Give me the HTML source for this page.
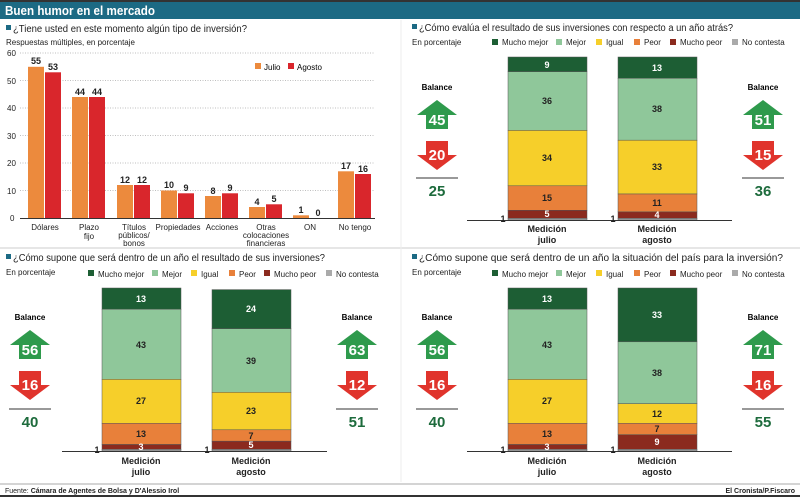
<!DOCTYPE html>
<html><head><meta charset="utf-8"><style>
html,body{margin:0;padding:0;background:#fff}
svg{display:block;font-family:"Liberation Sans",sans-serif}
.b{font-weight:bold}
</style></head><body>
<svg width="800" height="497" viewBox="0 0 800 497" xmlns="http://www.w3.org/2000/svg">
<defs>
<g id="up"><polygon points="0,-15 20,0 11,0 11,14 -11,14 -11,0 -20,0" fill="#2e9a4c"/></g>
<g id="dn"><polygon points="0,15 20,0 11,0 11,-14 -11,-14 -11,0 -20,0" fill="#e0342c"/></g>
</defs>
<rect x="0" y="0" width="800" height="2" fill="#333"/>
<rect x="0" y="2" width="800" height="17" fill="#1c6a84"/>
<text x="5" y="15" fill="#fff" font-size="13" class="b" textLength="150" lengthAdjust="spacingAndGlyphs">Buen humor en el mercado</text>
<line x1="0" y1="248" x2="800" y2="248" stroke="#ccc" stroke-width="1"/>
<line x1="401" y1="20" x2="401" y2="482" stroke="#eee" stroke-width="1"/>

<!-- Panel 1 -->
<rect x="6" y="25" width="5" height="5" fill="#1c6a84"/>
<text x="13" y="32" font-size="10" fill="#222" textLength="234" lengthAdjust="spacingAndGlyphs">¿Tiene usted en este momento algún tipo de inversión?</text>
<text x="6" y="45" font-size="8" fill="#222">Respuestas múltiples, en porcentaje</text>
<g stroke="#aaa" stroke-dasharray="1,1.5" stroke-width="0.8">
<line x1="20" y1="53" x2="375" y2="53"/><line x1="20" y1="80.5" x2="375" y2="80.5"/><line x1="20" y1="108" x2="375" y2="108"/><line x1="20" y1="135.5" x2="375" y2="135.5"/><line x1="20" y1="163" x2="375" y2="163"/><line x1="20" y1="190.5" x2="375" y2="190.5"/>
</g>
<line x1="20" y1="218.5" x2="375" y2="218.5" stroke="#333" stroke-width="1"/>
<g font-size="8" fill="#222">
<text x="7" y="56">60</text><text x="7" y="84">50</text><text x="7" y="111">40</text><text x="7" y="139">30</text><text x="7" y="166">20</text><text x="7" y="194">10</text><text x="10" y="221">0</text>
</g>
<rect x="255" y="63" width="6" height="6" fill="#ec8a3d"/><text x="264" y="70" font-size="8">Julio</text>
<rect x="288" y="63" width="6" height="6" fill="#d9262c"/><text x="297" y="70" font-size="8">Agosto</text>
<g fill="#ec8a3d">
<rect x="28" y="66.8" width="16" height="151.2"/><rect x="72" y="97" width="16" height="121"/><rect x="117" y="185" width="16" height="33"/><rect x="161" y="190.5" width="16" height="27.5"/><rect x="205" y="196" width="16" height="22"/><rect x="249" y="207" width="16" height="11"/><rect x="293" y="215.3" width="16" height="2.7"/><rect x="338" y="171.3" width="16" height="46.7"/>
</g>
<g fill="#d9262c">
<rect x="45" y="72.3" width="16" height="145.7"/><rect x="89" y="97" width="16" height="121"/><rect x="134" y="185" width="16" height="33"/><rect x="178" y="193.3" width="16" height="24.7"/><rect x="222" y="193.3" width="16" height="24.7"/><rect x="266" y="204.3" width="16" height="13.7"/><rect x="355" y="174" width="16" height="44"/>
</g>
<g font-size="9" class="b" text-anchor="middle" fill="#222">
<text x="36" y="64">55</text><text x="53" y="70">53</text><text x="80" y="95">44</text><text x="97" y="95">44</text><text x="125" y="183">12</text><text x="142" y="183">12</text><text x="169" y="188">10</text><text x="186" y="191">9</text><text x="213" y="194">8</text><text x="230" y="191">9</text><text x="257" y="205">4</text><text x="274" y="202">5</text><text x="301" y="213">1</text><text x="318" y="216">0</text><text x="346" y="169">17</text><text x="363" y="172">16</text>
</g>
<g font-size="8" text-anchor="middle" fill="#222">
<text x="45" y="230">Dólares</text><text x="89" y="230">Plazo</text><text x="89" y="239">fijo</text>
<text x="134" y="230">Títulos</text><text x="134" y="238">públicos/</text><text x="134" y="246">bonos</text>
<text x="178" y="230">Propiedades</text><text x="222" y="230">Acciones</text>
<text x="266" y="230">Otras</text><text x="266" y="238">colocaciones</text><text x="266" y="246">financieras</text>
<text x="310" y="230">ON</text><text x="355" y="230">No tengo</text>
</g>

<!-- Panel 2 -->
<rect x="412" y="24" width="5" height="5" fill="#1c6a84"/>
<text x="419" y="31" font-size="10" fill="#222" textLength="314" lengthAdjust="spacingAndGlyphs">¿Cómo evalúa el resultado de sus inversiones con respecto a un año atrás?</text>
<g font-size="8" fill="#222">
<text x="412" y="45">En porcentaje</text>
<rect x="492" y="39" width="6" height="6" fill="#1d5e34"/><text x="502" y="45">Mucho mejor</text>
<rect x="556" y="39" width="6" height="6" fill="#8fc79a"/><text x="566" y="45">Mejor</text>
<rect x="596" y="39" width="6" height="6" fill="#f6cf2a"/><text x="606" y="45">Igual</text>
<rect x="634" y="39" width="6" height="6" fill="#e8803a"/><text x="644" y="45">Peor</text>
<rect x="670" y="39" width="6" height="6" fill="#8b2a1e"/><text x="680" y="45">Mucho peor</text>
<rect x="732" y="39" width="6" height="6" fill="#aaa"/><text x="742" y="45">No contesta</text>
</g>
<g stroke="#555" stroke-width="0.5">
<rect x="508" y="57" width="79" height="14.7" fill="#1d5e34"/><rect x="508" y="71.7" width="79" height="58.7" fill="#8fc79a"/><rect x="508" y="130.4" width="79" height="55.4" fill="#f6cf2a"/><rect x="508" y="185.8" width="79" height="24.5" fill="#e8803a"/><rect x="508" y="210.3" width="79" height="8.1" fill="#8b2a1e"/><rect x="508" y="218.4" width="79" height="1.6" fill="#aaa"/>
<rect x="618" y="57" width="79" height="21.3" fill="#1d5e34"/><rect x="618" y="78.3" width="79" height="61.9" fill="#8fc79a"/><rect x="618" y="140.2" width="79" height="53.8" fill="#f6cf2a"/><rect x="618" y="194" width="79" height="17.9" fill="#e8803a"/><rect x="618" y="211.9" width="79" height="6.5" fill="#8b2a1e"/><rect x="618" y="218.4" width="79" height="1.6" fill="#aaa"/>
</g>
<line x1="467" y1="220.5" x2="732" y2="220.5" stroke="#333"/>
<g font-size="9" class="b" text-anchor="middle" fill="#222">
<text x="547" y="68" fill="#fff">9</text><text x="547" y="104">36</text><text x="547" y="161">34</text><text x="547" y="201">15</text><text x="547" y="217" fill="#fff">5</text><text x="503" y="222">1</text>
<text x="657" y="71" fill="#fff">13</text><text x="657" y="112">38</text><text x="657" y="170">33</text><text x="657" y="206">11</text><text x="657" y="218" fill="#fff">4</text><text x="613" y="222">1</text>
</g>
<g font-size="9" class="b" text-anchor="middle" fill="#222"><text x="547" y="232">Medición</text><text x="547" y="243">julio</text><text x="657" y="232">Medición</text><text x="657" y="243">agosto</text></g>
<g text-anchor="middle" class="b">
<text x="437" y="90" font-size="8">Balance</text>
<use href="#up" x="437" y="115"/><text x="437" y="125" font-size="15" fill="#fff">45</text>
<use href="#dn" x="437" y="155"/><text x="437" y="160" font-size="15" fill="#fff">20</text>
<line x1="416" y1="178" x2="458" y2="178" stroke="#333"/><text x="437" y="196" font-size="15" fill="#1d6b3c">25</text>
<text x="763" y="90" font-size="8">Balance</text>
<use href="#up" x="763" y="115"/><text x="763" y="125" font-size="15" fill="#fff">51</text>
<use href="#dn" x="763" y="155"/><text x="763" y="160" font-size="15" fill="#fff">15</text>
<line x1="742" y1="178" x2="784" y2="178" stroke="#333"/><text x="763" y="196" font-size="15" fill="#1d6b3c">36</text>
</g>

<!-- Panel 3 -->
<rect x="6" y="254" width="5" height="5" fill="#1c6a84"/>
<text x="13" y="261" font-size="10" fill="#222" textLength="312" lengthAdjust="spacingAndGlyphs">¿Cómo supone que será dentro de un año el resultado de sus inversiones?</text>
<g font-size="8" fill="#222">
<text x="6" y="275">En porcentaje</text>
<rect x="88" y="270" width="6" height="6" fill="#1d5e34"/><text x="98" y="277">Mucho mejor</text>
<rect x="152" y="270" width="6" height="6" fill="#8fc79a"/><text x="162" y="277">Mejor</text>
<rect x="191" y="270" width="6" height="6" fill="#f6cf2a"/><text x="201" y="277">Igual</text>
<rect x="229" y="270" width="6" height="6" fill="#e8803a"/><text x="239" y="277">Peor</text>
<rect x="264" y="270" width="6" height="6" fill="#8b2a1e"/><text x="274" y="277">Mucho peor</text>
<rect x="326" y="270" width="6" height="6" fill="#aaa"/><text x="336" y="277">No contesta</text>
</g>
<g stroke="#555" stroke-width="0.5">
<rect x="102" y="288" width="79" height="21.2" fill="#1d5e34"/><rect x="102" y="309.2" width="79" height="70.1" fill="#8fc79a"/><rect x="102" y="379.3" width="79" height="44" fill="#f6cf2a"/><rect x="102" y="423.3" width="79" height="21.2" fill="#e8803a"/><rect x="102" y="444.5" width="79" height="4.9" fill="#8b2a1e"/><rect x="102" y="449.4" width="79" height="1.6" fill="#aaa"/>
<rect x="212" y="289.6" width="79" height="39.1" fill="#1d5e34"/><rect x="212" y="328.7" width="79" height="63.6" fill="#8fc79a"/><rect x="212" y="392.3" width="79" height="37.5" fill="#f6cf2a"/><rect x="212" y="429.8" width="79" height="11.4" fill="#e8803a"/><rect x="212" y="441.2" width="79" height="8.2" fill="#8b2a1e"/><rect x="212" y="449.4" width="79" height="1.6" fill="#aaa"/>
</g>
<line x1="62" y1="451.5" x2="327" y2="451.5" stroke="#333"/>
<g font-size="9" class="b" text-anchor="middle" fill="#222">
<text x="141" y="302" fill="#fff">13</text><text x="141" y="348">43</text><text x="141" y="404">27</text><text x="141" y="437">13</text><text x="141" y="450" fill="#fff">3</text><text x="97" y="453">1</text>
<text x="251" y="312" fill="#fff">24</text><text x="251" y="364">39</text><text x="251" y="414">23</text><text x="251" y="439">7</text><text x="251" y="448" fill="#fff">5</text><text x="207" y="453">1</text>
<text x="141" y="464">Medición</text><text x="141" y="475">julio</text><text x="251" y="464">Medición</text><text x="251" y="475">agosto</text>
</g>
<g text-anchor="middle" class="b">
<text x="30" y="320" font-size="8">Balance</text>
<use href="#up" x="30" y="345"/><text x="30" y="355" font-size="15" fill="#fff">56</text>
<use href="#dn" x="30" y="385"/><text x="30" y="390" font-size="15" fill="#fff">16</text>
<line x1="9" y1="409" x2="51" y2="409" stroke="#333"/><text x="30" y="427" font-size="15" fill="#1d6b3c">40</text>
<text x="357" y="320" font-size="8">Balance</text>
<use href="#up" x="357" y="345"/><text x="357" y="355" font-size="15" fill="#fff">63</text>
<use href="#dn" x="357" y="385"/><text x="357" y="390" font-size="15" fill="#fff">12</text>
<line x1="336" y1="409" x2="378" y2="409" stroke="#333"/><text x="357" y="427" font-size="15" fill="#1d6b3c">51</text>
</g>

<!-- Panel 4 -->
<rect x="412" y="254" width="5" height="5" fill="#1c6a84"/>
<text x="419" y="261" font-size="10" fill="#222" textLength="364" lengthAdjust="spacingAndGlyphs">¿Cómo supone que será dentro de un año la situación del país para la inversión?</text>
<g font-size="8" fill="#222">
<text x="412" y="275">En porcentaje</text>
<rect x="492" y="270" width="6" height="6" fill="#1d5e34"/><text x="502" y="277">Mucho mejor</text>
<rect x="556" y="270" width="6" height="6" fill="#8fc79a"/><text x="566" y="277">Mejor</text>
<rect x="596" y="270" width="6" height="6" fill="#f6cf2a"/><text x="606" y="277">Igual</text>
<rect x="634" y="270" width="6" height="6" fill="#e8803a"/><text x="644" y="277">Peor</text>
<rect x="670" y="270" width="6" height="6" fill="#8b2a1e"/><text x="680" y="277">Mucho peor</text>
<rect x="732" y="270" width="6" height="6" fill="#aaa"/><text x="742" y="277">No contesta</text>
</g>
<g stroke="#555" stroke-width="0.5">
<rect x="508" y="288" width="79" height="21.2" fill="#1d5e34"/><rect x="508" y="309.2" width="79" height="70.1" fill="#8fc79a"/><rect x="508" y="379.3" width="79" height="44" fill="#f6cf2a"/><rect x="508" y="423.3" width="79" height="21.2" fill="#e8803a"/><rect x="508" y="444.5" width="79" height="4.9" fill="#8b2a1e"/><rect x="508" y="449.4" width="79" height="1.6" fill="#aaa"/>
<rect x="618" y="288" width="79" height="53.8" fill="#1d5e34"/><rect x="618" y="341.8" width="79" height="61.9" fill="#8fc79a"/><rect x="618" y="403.7" width="79" height="19.6" fill="#f6cf2a"/><rect x="618" y="423.3" width="79" height="11.4" fill="#e8803a"/><rect x="618" y="434.7" width="79" height="14.7" fill="#8b2a1e"/><rect x="618" y="449.4" width="79" height="1.6" fill="#aaa"/>
</g>
<line x1="467" y1="451.5" x2="732" y2="451.5" stroke="#333"/>
<g font-size="9" class="b" text-anchor="middle" fill="#222">
<text x="547" y="302" fill="#fff">13</text><text x="547" y="348">43</text><text x="547" y="404">27</text><text x="547" y="437">13</text><text x="547" y="450" fill="#fff">3</text><text x="503" y="453">1</text>
<text x="657" y="318" fill="#fff">33</text><text x="657" y="376">38</text><text x="657" y="417">12</text><text x="657" y="432">7</text><text x="657" y="445" fill="#fff">9</text><text x="613" y="453">1</text>
<text x="547" y="464">Medición</text><text x="547" y="475">julio</text><text x="657" y="464">Medición</text><text x="657" y="475">agosto</text>
</g>
<g text-anchor="middle" class="b">
<text x="437" y="320" font-size="8">Balance</text>
<use href="#up" x="437" y="345"/><text x="437" y="355" font-size="15" fill="#fff">56</text>
<use href="#dn" x="437" y="385"/><text x="437" y="390" font-size="15" fill="#fff">16</text>
<line x1="416" y1="409" x2="458" y2="409" stroke="#333"/><text x="437" y="427" font-size="15" fill="#1d6b3c">40</text>
<text x="763" y="320" font-size="8">Balance</text>
<use href="#up" x="763" y="345"/><text x="763" y="355" font-size="15" fill="#fff">71</text>
<use href="#dn" x="763" y="385"/><text x="763" y="390" font-size="15" fill="#fff">16</text>
<line x1="742" y1="409" x2="784" y2="409" stroke="#333"/><text x="763" y="427" font-size="15" fill="#1d6b3c">55</text>
</g>

<line x1="0" y1="484" x2="800" y2="484" stroke="#aaa"/>
<text x="5" y="493" font-size="7" fill="#222">Fuente: <tspan class="b">Cámara de Agentes de Bolsa y D'Alessio Irol</tspan></text>
<text x="795" y="493" font-size="7" fill="#222" text-anchor="end" class="b">El Cronista/P.Fiscaro</text>
<rect x="0" y="495" width="800" height="2" fill="#333"/>
</svg>
</body></html>
